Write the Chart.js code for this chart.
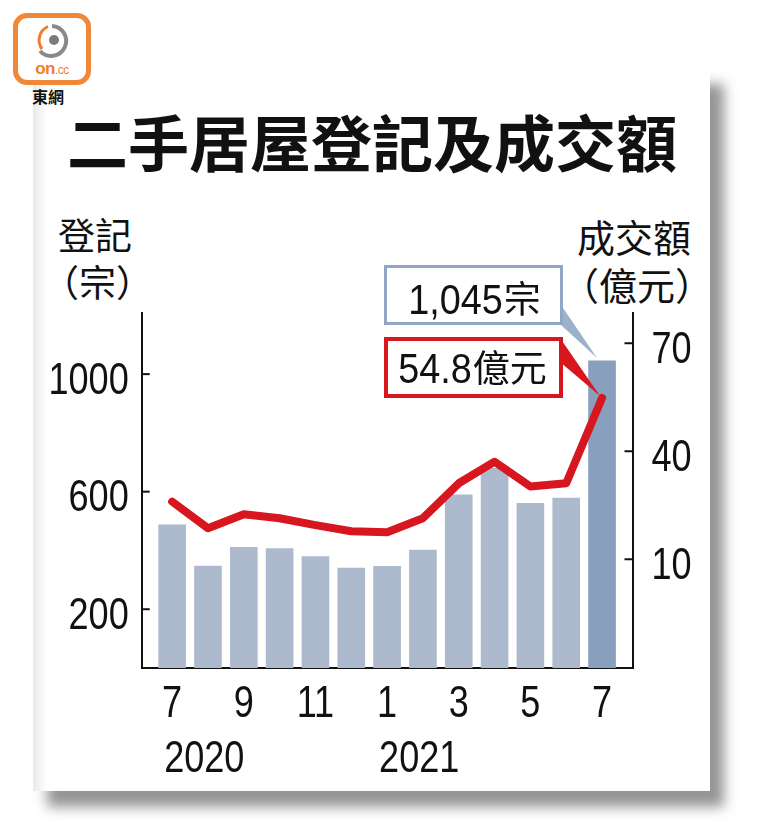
<!DOCTYPE html>
<html>
<head>
<meta charset="utf-8">
<script src="https://cdn.jsdelivr.net/npm/chart.js@4.4.1/dist/chart.umd.min.js"></script>
<style>
  body { margin: 0; width: 780px; height: 833px; background: #fff; position: relative; overflow: hidden; }
  #panel { position: absolute; left: 33px; top: 68px; width: 677px; height: 723px;
    background: linear-gradient(to right, #e9e9e9 0, #fff 14px);
    box-shadow: 14px 16px 12px rgba(0,0,0,0.42); }
  .cjk { position: absolute; font-family: "Noto Sans CJK TC", "Noto Sans CJK SC", sans-serif; color: #111; line-height: 1; white-space: nowrap; }
  #title { left: 67px; top: 110px; font-size: 61px; font-weight: 700; }
  #logo { position: absolute; left: 13px; top: 13px; width: 68px; height: 62px; border: 5px solid #f0883a; border-radius: 14px; background: #fff; }
  #logo .on { position: absolute; left: 0; width: 68px; top: 41px; text-align: center; font: bold 17px "Liberation Sans", sans-serif; color: #ee7d2c; letter-spacing: -0.5px; }
  #logo .on span { font-size: 12px; font-weight: normal; }
  #brand { left: 32px; top: 88px; font-size: 16px; font-weight: 700; }
  canvas { position: absolute; left: 0; top: 0; z-index: 2; }
</style>
</head>
<body>
<div id="panel"></div>
<div id="logo">
  <svg width="68" height="44" style="position:absolute;left:0;top:0">
    <path d="M 34 8 A 15 15 0 1 1 22 33" fill="none" stroke="#8a8a8a" stroke-width="4"/>
    <path d="M 30 8.5 A 15 15 0 0 0 24 31" fill="none" stroke="#ee7d2c" stroke-width="3"/>
    <circle cx="36" cy="22" r="5" fill="#7a7a7a"/>
  </svg>
  <div class="on">on<span>.cc</span></div>
</div>
<div id="brand" class="cjk">東網</div>
<div id="title" class="cjk">二手居屋登記及成交額</div>
<div class="cjk" style="left:58px;top:216px;font-size:37px">登記</div>
<div class="cjk" style="left:42px;top:263px;font-size:37px">（宗）</div>
<div class="cjk" style="left:577px;top:217px;font-size:38px">成交額</div>
<div class="cjk" style="left:561px;top:265px;font-size:38px">（億元）</div>
<canvas id="c" width="780" height="833"></canvas>
<script>
const months = ['7', '8', '9', '10', '11', '12', '1', '2', '3', '4', '5', '6', '7'];
const years = [{ idx: 0, label: '2020' }, { idx: 6, label: '2021' }];
const registrations = [487, 347, 411, 406, 379, 340, 346, 401, 589, 680, 560, 578, 1045];
const turnover = [26.0, 18.6, 22.5, 21.4, 19.5, 17.8, 17.5, 21.4, 31.1, 37.1, 30.2, 31.1, 54.8];
const leftTicks = [200, 600, 1000];
const rightTicks = [10, 40, 70];
const monthTicks = [0, 2, 4, 6, 8, 10, 12];

const SANS = '"Liberation Sans", Arial, sans-serif';
const CJK = '"Noto Sans CJK TC", sans-serif';
const SQUEEZE = 0.82;   // condensed look of the original digits

// horizontally squeezed text, since no narrow font is installed
function narrowText(ctx, text, x, y, size, align, squeeze = SQUEEZE) {
  ctx.save();
  ctx.font = size + 'px ' + SANS;
  ctx.textAlign = align;
  ctx.textBaseline = 'alphabetic';
  ctx.translate(x, y);
  ctx.scale(squeeze, 1);
  ctx.fillText(text, 0, 0);
  ctx.restore();
}

const decor = {
  id: 'decor',
  afterDraw(chart) {
    const ctx = chart.ctx;
    const x = chart.scales.x, yL = chart.scales.y, yR = chart.scales.y1;
    ctx.save();
    ctx.strokeStyle = '#111';
    ctx.fillStyle = '#111';
    ctx.lineWidth = 2;
    // inward tick marks + labels
    leftTicks.forEach(v => {
      const py = yL.getPixelForValue(v);
      ctx.beginPath(); ctx.moveTo(yL.right, py); ctx.lineTo(yL.right + 8, py); ctx.stroke();
      narrowText(ctx, String(v), yL.right - 13, py + 19.5, 44, 'right');
    });
    rightTicks.forEach(v => {
      const py = yR.getPixelForValue(v);
      ctx.beginPath(); ctx.moveTo(yR.left, py); ctx.lineTo(yR.left - 8, py); ctx.stroke();
      narrowText(ctx, String(v), yR.left + 19, py + 19.5, 44, 'left');
    });
    monthTicks.forEach(i => {
      narrowText(ctx, months[i], x.getPixelForValue(i), x.top + 49, 44, 'center');
    });
    years.forEach(y => narrowText(ctx, y.label, x.getPixelForValue(y.idx) - 8, x.top + 104, 44, 'left'));

    // callouts for the last month
    const last = months.length - 1;
    const bx = x.getPixelForValue(last);
    const barTop = yL.getPixelForValue(registrations[last]);
    const lineY = yR.getPixelForValue(turnover[last]);

    ctx.fillStyle = '#9cb1cb';
    ctx.beginPath();
    ctx.moveTo(561, 305); ctx.lineTo(561, 325); ctx.lineTo(bx - 5, barTop - 3); ctx.closePath(); ctx.fill();
    ctx.fillStyle = '#fff';
    ctx.fillRect(385, 266, 177, 58);
    ctx.strokeStyle = '#8fa6c4'; ctx.lineWidth = 3;
    ctx.strokeRect(385.5, 266.5, 176, 57);

    ctx.fillStyle = '#d7161e';
    ctx.beginPath();
    ctx.moveTo(560, 338); ctx.lineTo(560, 362); ctx.lineTo(bx - 2, lineY - 2); ctx.closePath(); ctx.fill();
    ctx.fillStyle = '#fff';
    ctx.fillRect(385, 339, 177, 57);
    ctx.strokeStyle = '#d7161e'; ctx.lineWidth = 4;
    ctx.strokeRect(386, 339, 175, 57);

    const mixed = (num, unit, cx, base) => {
      ctx.font = '42px ' + SANS;
      const w1 = ctx.measureText(num).width * 0.9;
      ctx.font = '37px ' + CJK;
      const w2 = ctx.measureText(unit).width;
      const sx = cx - (w1 + w2) / 2;
      ctx.fillStyle = '#111';
      narrowText(ctx, num, sx, base, 42, 'left', 0.9);
      ctx.font = '37px ' + CJK;
      ctx.textAlign = 'left';
      ctx.textBaseline = 'alphabetic';
      ctx.fillText(unit, sx + w1 + 1, base - 1);
    };
    mixed(registrations[last].toLocaleString('en-US'), '宗', 474, 314);
    mixed(turnover[last].toFixed(1), '億元', 472, 383);
    ctx.restore();
  }
};

const barColors = registrations.map((v, i) => i === registrations.length - 1 ? '#889fbe' : '#adbacd');

new Chart(document.getElementById('c'), {
  type: 'bar',
  data: {
    datasets: [
      {
        type: 'line',
        data: turnover.map((v, i) => ({ x: i, y: v })),
        yAxisID: 'y1',
        borderColor: '#d8161f',
        borderWidth: 8,
        borderCapStyle: 'round',
        borderJoinStyle: 'round',
        pointRadius: 0,
        tension: 0,
        order: 1
      },
      {
        type: 'bar',
        data: registrations.map((v, i) => ({ x: i, y: v })),
        yAxisID: 'y',
        backgroundColor: barColors,
        barThickness: 27,
        order: 2
      }
    ]
  },
  options: {
    responsive: false,
    animation: false,
    layout: { padding: { top: 313, left: 0, right: 0, bottom: 0 } },
    plugins: { legend: { display: false }, tooltip: { enabled: false } },
    scales: {
      x: {
        type: 'linear',
        offset: false,
        min: -0.85,
        max: 12.85,
        afterBuildTicks: s => { s.ticks = monthTicks.map(v => ({ value: v })); },
        afterFit: s => { s.height = 165; },
        grid: { drawOnChartArea: false, drawTicks: false },
        border: { color: '#111', width: 2 },
        ticks: { display: false }
      },
      y: {
        position: 'left',
        min: 0,
        max: 1208,
        afterBuildTicks: s => { s.ticks = leftTicks.map(v => ({ value: v })); },
        afterFit: s => { s.width = 141.7; },
        grid: { drawOnChartArea: false, drawTicks: false },
        border: { color: '#111', width: 2 },
        ticks: { display: false }
      },
      y1: {
        position: 'right',
        min: -20.2,
        max: 78.4,
        afterBuildTicks: s => { s.ticks = rightTicks.map(v => ({ value: v })); },
        afterFit: s => { s.width = 147.5; },
        grid: { drawOnChartArea: false, drawTicks: false },
        border: { color: '#111', width: 2 },
        ticks: { display: false }
      }
    }
  },
  plugins: [decor]
});
</script>
</body>
</html>
